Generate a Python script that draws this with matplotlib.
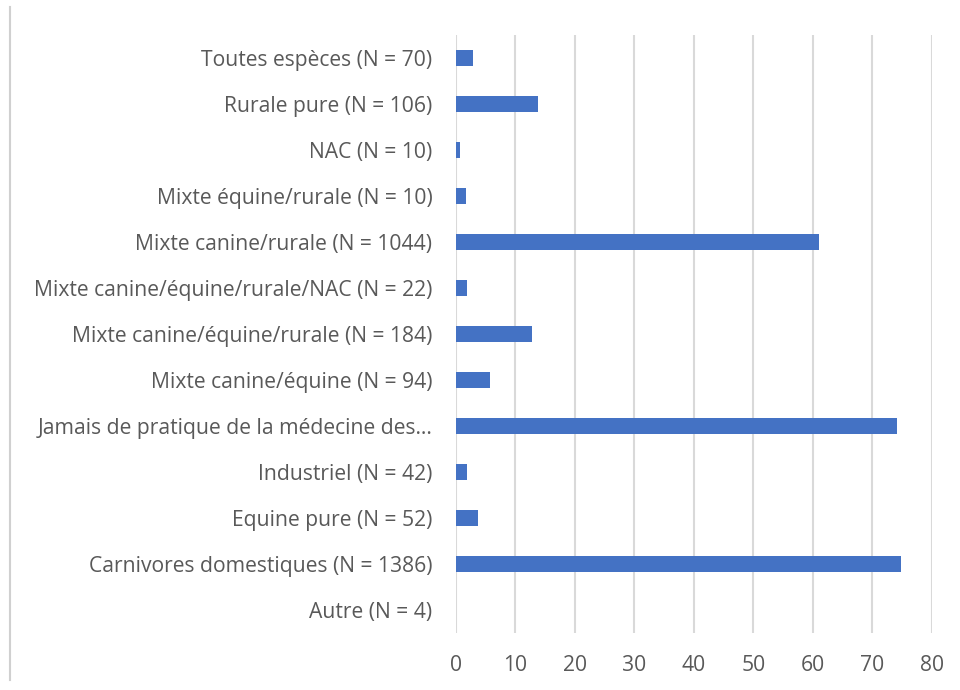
import matplotlib
matplotlib.use("Agg")
import matplotlib.pyplot as plt
from matplotlib.lines import Line2D

# categories, bottom to top as drawn
categories = [
    "Autre (N = 4)",
    "Carnivores domestiques (N = 1386)",
    "Equine pure (N = 52)",
    "Industriel (N = 42)",
    "Jamais de pratique de la médecine des…",
    "Mixte canine/équine (N = 94)",
    "Mixte canine/équine/rurale (N = 184)",
    "Mixte canine/équine/rurale/NAC (N = 22)",
    "Mixte canine/rurale (N = 1044)",
    "Mixte équine/rurale (N = 10)",
    "NAC (N = 10)",
    "Rurale pure (N = 106)",
    "Toutes espèces (N = 70)",
]
values = [0, 74.9, 3.7, 1.8, 74.1, 5.8, 12.7, 1.8, 61.1, 1.7, 0.7, 13.8, 2.8]
x_ticks = [0, 10, 20, 30, 40, 50, 60, 70, 80]

plt.rcParams['font.family'] = ['Open Sans', 'DejaVu Sans']

fig = plt.figure(figsize=(9.6, 6.9), dpi=100)
ax = fig.add_axes([0.475, 0.0826, 0.4955, 0.8667])

ax.barh(range(len(categories)), values, height=0.36, color="#4472C4", zorder=3)
ax.set_yticks(range(len(categories)))
ax.set_yticklabels(categories)
ax.set_ylim(-0.5, len(categories) - 0.5)
ax.set_xlim(0, 80)
ax.set_xticks(x_ticks)

ax.grid(axis="x", color="#d9d9d9", linewidth=1.5, zorder=0)
for s in ax.spines.values():
    s.set_visible(False)
ax.tick_params(axis="y", length=0, pad=17, labelsize=15.2, labelcolor="#595959")
ax.tick_params(axis="x", length=0, pad=16, labelsize=15.2, labelcolor="#595959")

# chart frame edge on the left
fig.add_artist(Line2D([0.0105, 0.0105], [0.015, 0.99], color="#d0d0d0", linewidth=1.5))

fig.savefig("out.png", dpi=100)
